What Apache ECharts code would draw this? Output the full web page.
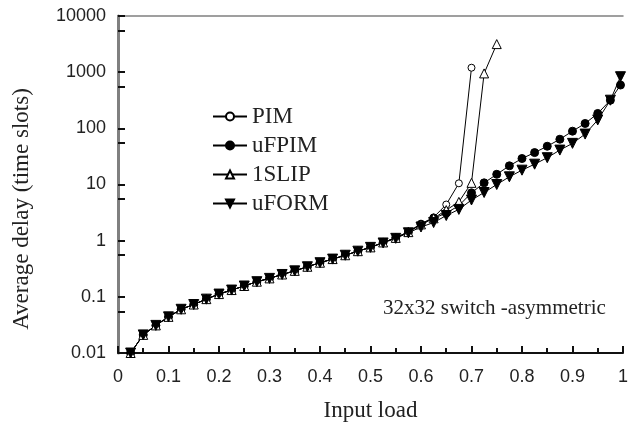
<!DOCTYPE html>
<html>
<head>
<meta charset="utf-8">
<script src="https://cdn.jsdelivr.net/npm/echarts@6/dist/echarts.min.js"></script>
<style>
    html, body { margin: 0; padding: 0; background: #fff; }
    #chart { width: 631px; height: 428px; }
</style>
</head>
<body>
<div id="chart"></div>
<script>
    // input load values (x) shared by every series
    const loads = [0.025, 0.05, 0.075, 0.1, 0.125, 0.15, 0.175, 0.2, 0.225, 0.25,
        0.275, 0.3, 0.325, 0.35, 0.375, 0.4, 0.425, 0.45, 0.475, 0.5,
        0.525, 0.55, 0.575, 0.6, 0.625, 0.65, 0.675, 0.7, 0.725, 0.75,
        0.775, 0.8, 0.825, 0.85, 0.875, 0.9, 0.925, 0.95, 0.975, 0.995]

    const pimDelay = [0.01, 0.021, 0.031, 0.044, 0.06, 0.073, 0.091, 0.112, 0.132, 0.156,
        0.186, 0.213, 0.25, 0.29, 0.343, 0.405, 0.47, 0.55, 0.65, 0.76,
        0.93, 1.12, 1.45, 2.0, 2.6, 4.4, 10.5, 1200]
    const ufpimDelay = [0.01, 0.021, 0.031, 0.044, 0.06, 0.073, 0.091, 0.112, 0.132, 0.156,
        0.186, 0.213, 0.25, 0.29, 0.343, 0.405, 0.47, 0.55, 0.65, 0.76,
        0.93, 1.12, 1.42, 1.95, 2.5, 3.1, 4.2, 7.1, 10.7, 15.2,
        21.5, 29, 37, 48, 64, 89, 122, 184, 317, 590]
    const slipDelay = [0.01, 0.021, 0.031, 0.044, 0.06, 0.073, 0.091, 0.112, 0.132, 0.156,
        0.186, 0.213, 0.25, 0.29, 0.343, 0.405, 0.47, 0.55, 0.65, 0.76,
        0.93, 1.12, 1.42, 1.95, 2.5, 3.5, 4.9, 10.7, 950, 3160]
    const uformDelay = [0.01, 0.021, 0.031, 0.044, 0.06, 0.073, 0.091, 0.112, 0.132, 0.156,
        0.186, 0.213, 0.25, 0.29, 0.343, 0.405, 0.47, 0.55, 0.65, 0.76,
        0.91, 1.1, 1.38, 1.75, 2.1, 2.8, 3.6, 5.3, 7.2, 10,
        13.7, 18, 23, 30, 41, 54, 79, 141, 317, 830]

    const xTicks = ['0', '0.1', '0.2', '0.3', '0.4', '0.5', '0.6', '0.7', '0.8', '0.9', '1']

    const pairs = vals => vals.map((v, i) => [loads[i], v])

    const serif = '"Liberation Serif", "Times New Roman", serif'
    const sans = '"Liberation Sans", Arial, sans-serif'
    const downTri = 'path://M0,0 L10,0 L5,9 Z'

    const chart = echarts.init(document.getElementById('chart'), null, { renderer: 'canvas' })

    const lineSeries = (name, data, symbol, size, fill) => ({
        name: name,
        type: 'line',
        data: pairs(data),
        symbol: symbol,
        symbolSize: size,
        showAllSymbol: true,
        lineStyle: { color: '#000', width: 1 },
        itemStyle: { color: fill, borderColor: '#000', borderWidth: 1 },
        animation: false
    })

    const option = {
        animation: false,
        grid: { left: 118, right: 4, top: 16, bottom: 75, show: false },
        legend: {
            orient: 'vertical',
            left: 207,
            top: 100,
            itemWidth: 34,
            itemHeight: 10,
            itemGap: 6,
            textStyle: { fontFamily: serif, fontSize: 23, color: '#222', lineHeight: 23 },
            data: ['PIM', 'uFPIM', '1SLIP', 'uFORM']
        },
        xAxis: [
            {
                type: 'value',
                min: 0,
                max: 1,
                interval: 0.1,
                name: 'Input load',
                nameLocation: 'middle',
                nameGap: 46,
                nameTextStyle: { fontFamily: serif, fontSize: 23, color: '#222' },
                axisLine: { lineStyle: { color: '#111', width: 2 } },
                axisTick: { inside: true, length: 7, lineStyle: { color: '#111', width: 2 } },
                minorTick: { show: true, splitNumber: 2, length: 5, lineStyle: { color: '#111', width: 2 } },
                splitLine: { show: false },
                axisLabel: {
                    margin: 15,
                    fontFamily: sans,
                    fontSize: 18,
                    color: '#222',
                    formatter: (v) => xTicks[Math.round(v * 10)]
                }
            },
            {
                type: 'value',
                position: 'top',
                min: 0,
                max: 1,
                axisLine: { show: true, lineStyle: { color: '#808080', width: 1.5 } },
                axisTick: { show: false },
                axisLabel: { show: false },
                splitLine: { show: false }
            }
        ],
        yAxis: [
            {
                type: 'log',
                logBase: 10,
                min: 0.01,
                max: 10000,
                axisLine: { show: true, lineStyle: { color: '#111', width: 2 } },
                axisTick: { inside: true, length: 7, lineStyle: { color: '#111', width: 2 } },
                minorTick: { show: true, splitNumber: 2, length: 7, lineStyle: { color: '#111', width: 2 } },
                splitLine: { show: false },
                axisLabel: {
                    margin: 12,
                    fontFamily: sans,
                    fontSize: 18,
                    color: '#222',
                    formatter: (v) => String(+v.toPrecision(2))
                }
            },
            {
                type: 'value',
                position: 'right',
                min: 0,
                max: 1,
                axisLine: { show: true, lineStyle: { color: '#808080', width: 3 } },
                axisTick: { show: false },
                axisLabel: { show: false },
                splitLine: { show: false }
            }
        ],
        graphic: [
            {
                type: 'text',
                x: 22,
                y: 209,
                rotation: Math.PI / 2,
                style: {
                    text: 'Average delay (time slots)',
                    font: '23px ' + serif,
                    fill: '#222',
                    textAlign: 'center',
                    textVerticalAlign: 'middle'
                }
            },
            {
                type: 'text',
                left: 383,
                top: 298,
                style: {
                    text: '32x32 switch -asymmetric',
                    font: '21px ' + serif,
                    fill: '#222'
                }
            }
        ],
        series: [
            lineSeries('PIM', pimDelay, 'circle', 7, '#fff'),
            lineSeries('uFPIM', ufpimDelay, 'circle', 8, '#000'),
            lineSeries('1SLIP', slipDelay, 'triangle', 9, '#fff'),
            lineSeries('uFORM', uformDelay, downTri, 10, '#000')
        ]
    }

    chart.setOption(option)
</script>
</body>
</html>
